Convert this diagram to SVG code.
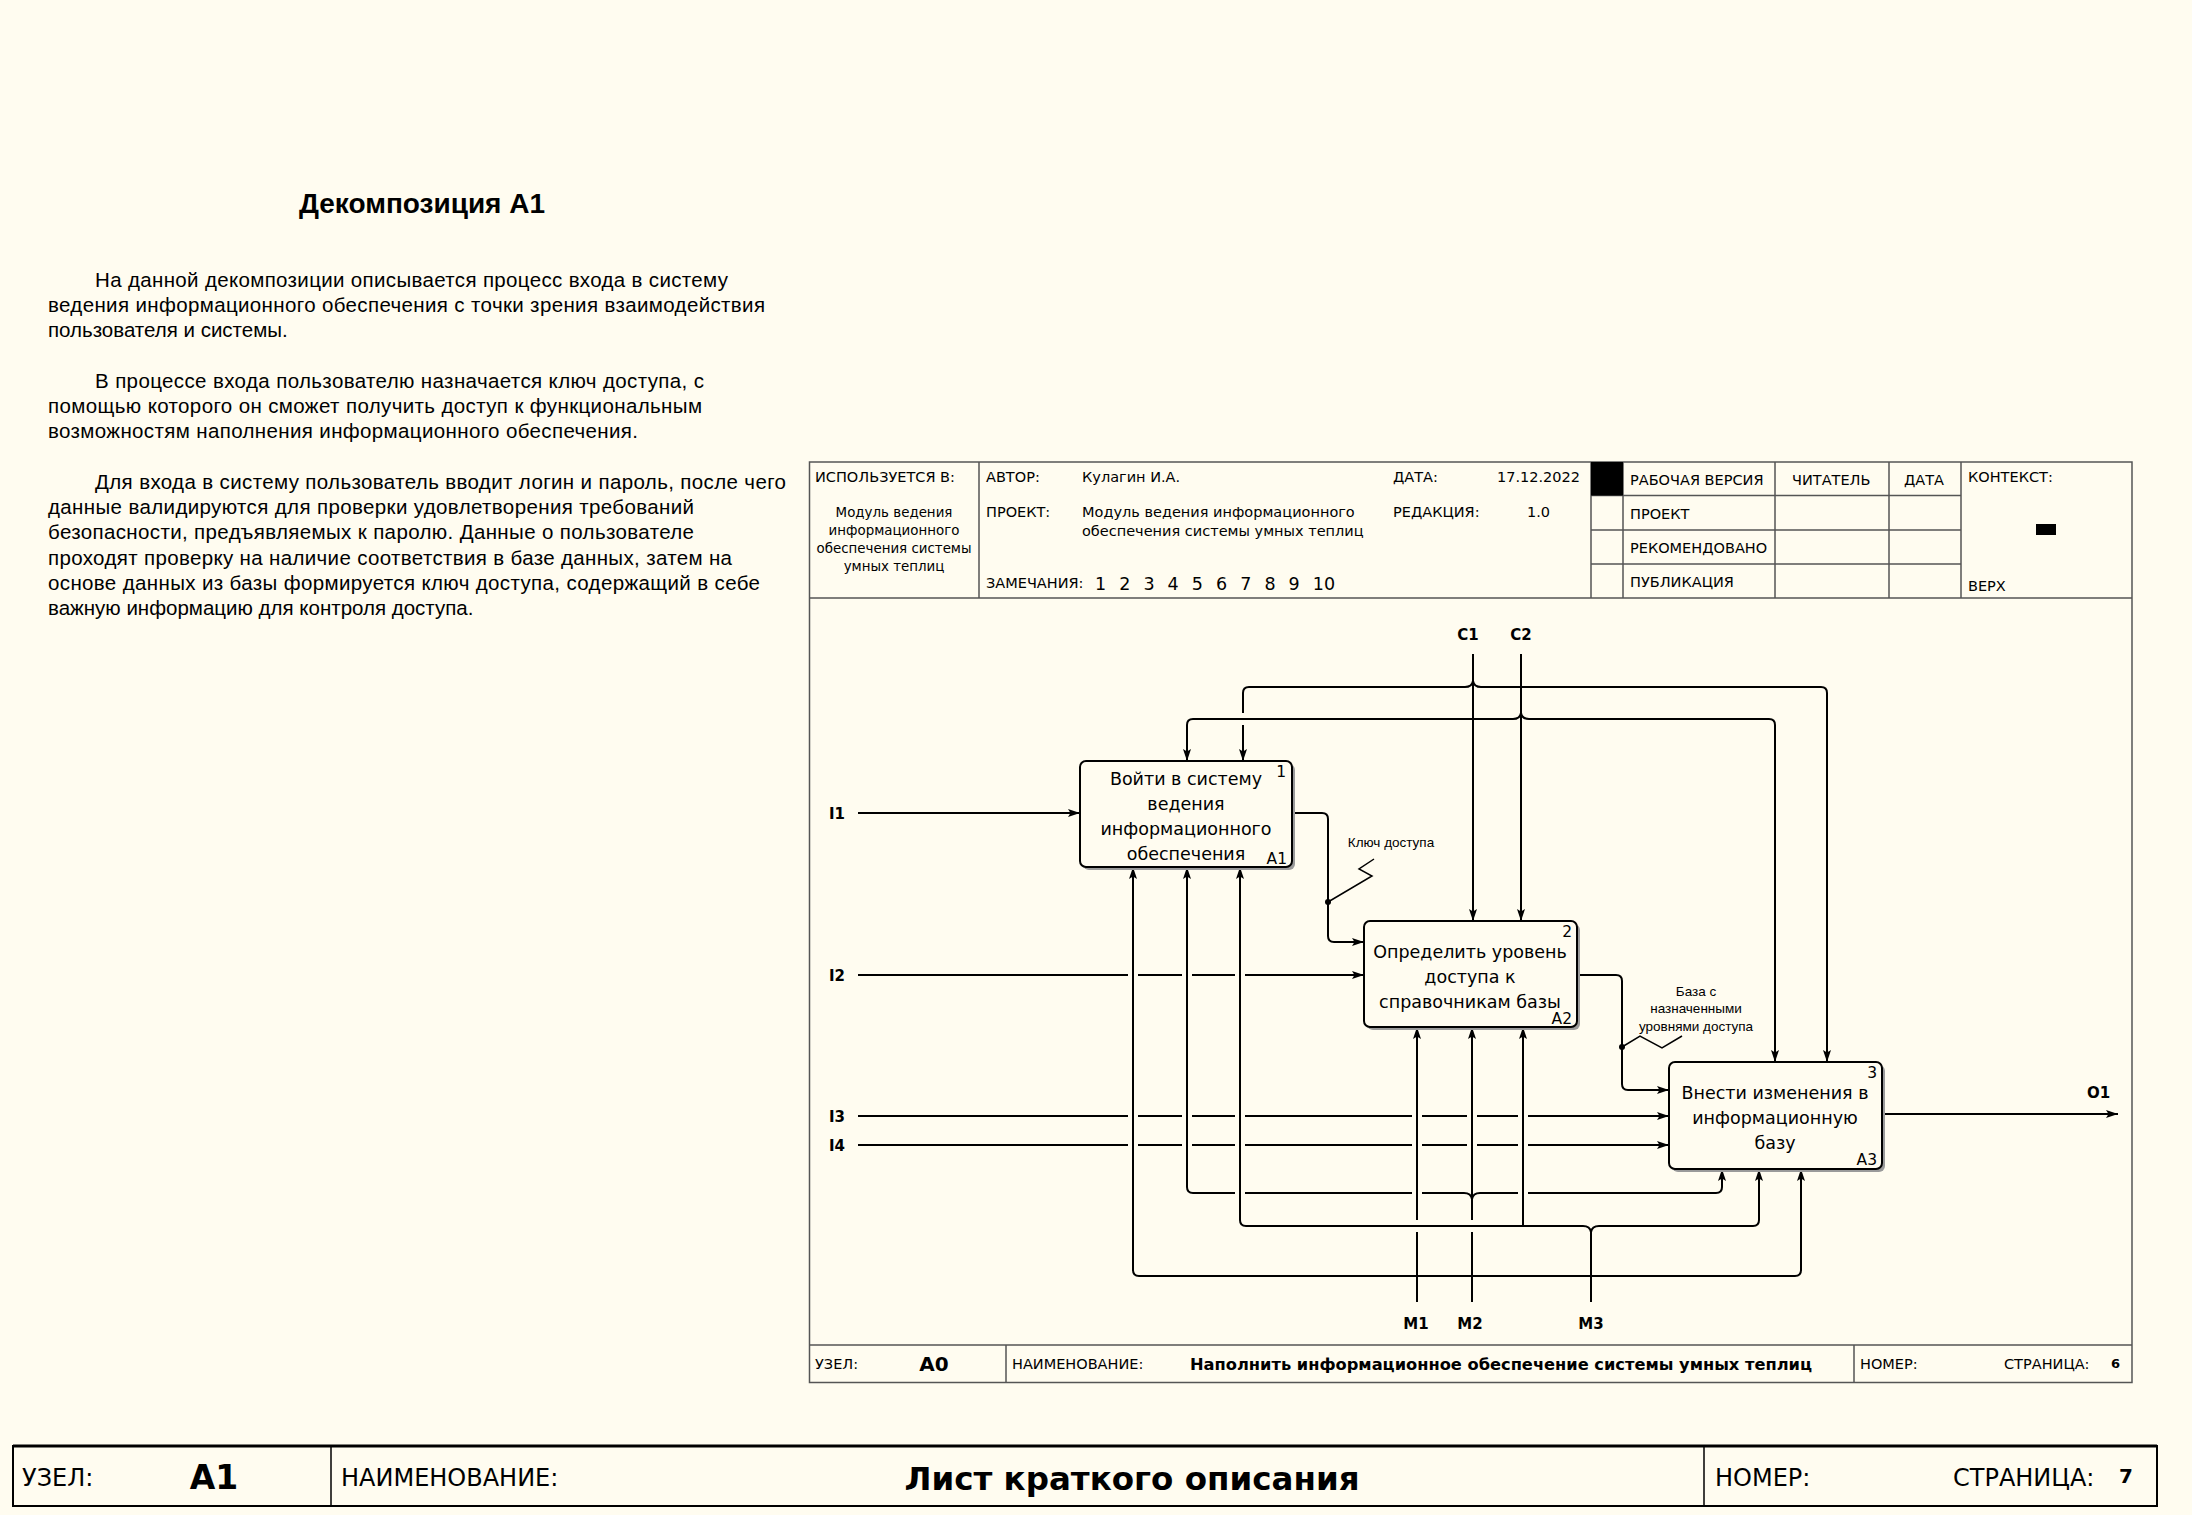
<svg xmlns="http://www.w3.org/2000/svg" width="2192" height="1515" viewBox="0 0 2192 1515">
<defs>
<style>
.bg{fill:#FFFCF0}
.para{font-family:"Liberation Sans",Arial,sans-serif;font-size:20.5px;fill:#000}
.title{font-family:"Liberation Sans",Arial,sans-serif;font-size:28px;font-weight:bold;fill:#000}
.h{font-family:"DejaVu Sans",sans-serif;font-size:14.5px;fill:#000}
.hs{font-family:"DejaVu Sans",sans-serif;font-size:13.4px;fill:#000;text-anchor:middle}
.fr{fill:none;stroke:#555;stroke-width:1.5}
.box{fill:#FFFCF0;stroke:#000;stroke-width:2}
.shadow{fill:#9a9a9a;stroke:none}
.bt{font-family:"DejaVu Sans",sans-serif;font-size:17.5px;fill:#000;text-anchor:middle}
.bn{font-family:"DejaVu Sans",sans-serif;font-size:15.5px;fill:#000;text-anchor:end}
.lbl{font-family:"DejaVu Sans",sans-serif;font-size:15px;font-weight:bold;fill:#000}
.al{font-family:"Liberation Sans",Arial,sans-serif;font-size:13.5px;fill:#000;text-anchor:middle}
.c{fill:none;stroke:#000;stroke-width:2}
.ca{fill:none;stroke:#000;stroke-width:2;marker-end:url(#arr)}
.pf{font-family:"DejaVu Sans",sans-serif;font-size:24px;fill:#000}
</style>
<marker id="arr" viewBox="0 0 12 8" refX="12" refY="4" markerWidth="12" markerHeight="8" markerUnits="userSpaceOnUse" orient="auto">
<path d="M0,0 L12,4 L0,8 L2.5,4 z" fill="#000"/>
</marker>
</defs>
<rect class="bg" x="0" y="0" width="2192" height="1515"/>

<g id="description">
<text class="title" x="422" y="213" text-anchor="middle">Декомпозиция A1</text>
<text class="para" x="95" y="287" textLength="633" lengthAdjust="spacing">На данной декомпозиции описывается процесс входа в систему</text>
<text class="para" x="48" y="312" textLength="717" lengthAdjust="spacing">ведения информационного обеспечения с точки зрения взаимодействия</text>
<text class="para" x="48" y="337">пользователя и системы.</text>
<text class="para" x="95" y="388" textLength="609" lengthAdjust="spacing">В процессе входа пользователю назначается ключ доступа, с</text>
<text class="para" x="48" y="413" textLength="654" lengthAdjust="spacing">помощью которого он сможет получить доступ к функциональным</text>
<text class="para" x="48" y="438" textLength="590" lengthAdjust="spacing">возможностям наполнения информационного обеспечения.</text>
<text class="para" x="95" y="489" textLength="691" lengthAdjust="spacing">Для входа в систему пользователь вводит логин и пароль, после чего</text>
<text class="para" x="48" y="514" textLength="646" lengthAdjust="spacing">данные валидируются для проверки удовлетворения требований</text>
<text class="para" x="48" y="539" textLength="646" lengthAdjust="spacing">безопасности, предъявляемых к паролю. Данные о пользователе</text>
<text class="para" x="48" y="565" textLength="684" lengthAdjust="spacing">проходят проверку на наличие соответствия в базе данных, затем на</text>
<text class="para" x="48" y="590" textLength="712" lengthAdjust="spacing">основе данных из базы формируется ключ доступа, содержащий в себе</text>
<text class="para" x="48" y="615">важную информацию для контроля доступа.</text>
</g>

<g id="header">
<rect class="fr" x="809.5" y="462" width="1322.5" height="920.5"/>
<line class="fr" x1="809.5" y1="598" x2="2132" y2="598"/>
<line class="fr" x1="979" y1="462" x2="979" y2="598"/>
<line class="fr" x1="1591" y1="462" x2="1591" y2="598"/>
<line class="fr" x1="1623" y1="462" x2="1623" y2="598"/>
<line class="fr" x1="1775" y1="462" x2="1775" y2="598"/>
<line class="fr" x1="1889" y1="462" x2="1889" y2="598"/>
<line class="fr" x1="1961" y1="462" x2="1961" y2="598"/>
<line class="fr" x1="1591" y1="495.5" x2="1961" y2="495.5"/>
<line class="fr" x1="1591" y1="530" x2="1961" y2="530"/>
<line class="fr" x1="1591" y1="564" x2="1961" y2="564"/>
<rect x="1591" y="462" width="32" height="33.5" fill="#000"/>
<rect x="2036" y="524" width="20" height="11" fill="#000"/>
<text class="h" x="815" y="482">ИСПОЛЬЗУЕТСЯ В:</text>
<text class="hs" x="894" y="517">Модуль ведения</text>
<text class="hs" x="894" y="535">информационного</text>
<text class="hs" x="894" y="553">обеспечения системы</text>
<text class="hs" x="894" y="571">умных теплиц</text>
<text class="h" x="986" y="482">АВТОР:</text>
<text class="h" x="1082" y="482">Кулагин И.А.</text>
<text class="h" x="1393" y="482">ДАТА:</text>
<text class="h" x="1497" y="482">17.12.2022</text>
<text class="h" x="986" y="517">ПРОЕКТ:</text>
<text class="h" x="1082" y="517">Модуль ведения информационного</text>
<text class="h" x="1082" y="536">обеспечения системы умных теплиц</text>
<text class="h" x="1393" y="517">РЕДАКЦИЯ:</text>
<text class="h" x="1527" y="517">1.0</text>
<text class="h" x="986" y="588">ЗАМЕЧАНИЯ:</text>
<text class="h" x="1095" y="590" style="font-size:17.5px;word-spacing:7.5px">1 2 3 4 5 6 7 8 9 10</text>
<text class="h" x="1630" y="485">РАБОЧАЯ ВЕРСИЯ</text>
<text class="h" x="1792" y="485">ЧИТАТЕЛЬ</text>
<text class="h" x="1904" y="485">ДАТА</text>
<text class="h" x="1630" y="519">ПРОЕКТ</text>
<text class="h" x="1630" y="553">РЕКОМЕНДОВАНО</text>
<text class="h" x="1630" y="587">ПУБЛИКАЦИЯ</text>
<text class="h" x="1968" y="482">КОНТЕКСТ:</text>
<text class="h" x="1968" y="591">ВЕРХ</text>
</g>

<g id="footer">
<line class="fr" x1="809.5" y1="1345" x2="2132" y2="1345"/>
<line class="fr" x1="1006" y1="1345" x2="1006" y2="1382.5"/>
<line class="fr" x1="1854" y1="1345" x2="1854" y2="1382.5"/>
<text class="h" x="815" y="1369">УЗЕЛ:</text>
<text class="h" x="934" y="1371" text-anchor="middle" style="font-size:20px;font-weight:bold">A0</text>
<text class="h" x="1012" y="1369">НАИМЕНОВАНИЕ:</text>
<text class="h" x="1190" y="1370" style="font-size:16px;font-weight:bold" textLength="622" lengthAdjust="spacingAndGlyphs">Наполнить информационное обеспечение системы умных теплиц</text>
<text class="h" x="1860" y="1369">НОМЕР:</text>
<text class="h" x="2004" y="1369">СТРАНИЦА:</text>
<text class="h" x="2111" y="1368" style="font-size:13px;font-weight:bold">6</text>
</g>

<g id="connectors">
<!-- inputs -->
<path class="ca" d="M858,813 H1080"/>
<path class="c" d="M858,975 H1128 M1138,975 H1182 M1192,975 H1235"/>
<path class="ca" d="M1245,975 H1364"/>
<path class="c" d="M858,1116 H1128 M1138,1116 H1182 M1192,1116 H1235 M1245,1116 H1412 M1422,1116 H1467 M1477,1116 H1518"/>
<path class="ca" d="M1528,1116 H1669"/>
<path class="c" d="M858,1145 H1128 M1138,1145 H1182 M1192,1145 H1235 M1245,1145 H1412 M1422,1145 H1467 M1477,1145 H1518"/>
<path class="ca" d="M1528,1145 H1669"/>
<!-- output -->
<path class="ca" d="M1882,1114 H2118"/>
<!-- controls -->
<path class="ca" d="M1473,654 V921"/>
<path class="c" d="M1473,681 Q1472,687 1465,687 H1249 Q1243,687 1243,693 V713"/>
<path class="ca" d="M1243,725 V761"/>
<path class="ca" d="M1473,681 Q1474,687 1481,687 H1821 Q1827,687 1827,693 V1062"/>
<path class="ca" d="M1521,654 V921"/>
<path class="ca" d="M1521,713 Q1520,719 1513,719 H1193 Q1187,719 1187,725 V761"/>
<path class="ca" d="M1521,713 Q1522,719 1529,719 H1769 Q1775,719 1775,725 V1062"/>
<!-- A1 -> A2 -->
<path class="ca" d="M1292,813 H1322 Q1328,813 1328,819 V936 Q1328,942 1334,942 H1364"/>
<circle cx="1328" cy="902" r="3" fill="#000"/>
<path d="M1328,902 L1372,876 L1359,869 L1374,859" fill="none" stroke="#000" stroke-width="1.5"/>
<text class="al" x="1391" y="847">Ключ доступа</text>
<!-- A2 -> A3 -->
<path class="ca" d="M1577,975 H1616 Q1622,975 1622,981 V1084 Q1622,1090 1628,1090 H1669"/>
<circle cx="1622" cy="1047" r="3" fill="#000"/>
<path d="M1622,1047 L1640,1036 L1662,1048 L1682,1036" fill="none" stroke="#000" stroke-width="1.5"/>
<text class="al" x="1696" y="996">База с</text>
<text class="al" x="1696" y="1013">назначенными</text>
<text class="al" x="1696" y="1031">уровнями доступа</text>
<!-- mechanisms -->
<path class="ca" d="M1470,1276 H1139 Q1133,1276 1133,1270 V867"/>
<path class="ca" d="M1470,1276 H1795 Q1801,1276 1801,1270 V1169"/>
<path class="c" d="M1472,1199 Q1471,1193 1464,1193 H1422 M1412,1193 H1245"/>
<path class="ca" d="M1235,1193 H1193 Q1187,1193 1187,1187 V867"/>
<path class="c" d="M1472,1199 Q1473,1193 1480,1193 H1518"/>
<path class="ca" d="M1528,1193 H1716 Q1722,1193 1722,1187 V1169"/>
<path class="c" d="M1417,1302 V1232 M1472,1302 V1232"/>
<path class="ca" d="M1417,1220 V1027"/>
<path class="ca" d="M1472,1220 V1027"/>
<path class="c" d="M1591,1302 V1232"/>
<path class="ca" d="M1591,1232 Q1590,1226 1583,1226 H1246 Q1240,1226 1240,1220 V867"/>
<path class="ca" d="M1591,1232 Q1592,1226 1599,1226 H1753 Q1759,1226 1759,1220 V1169"/>
<path class="ca" d="M1523,1226 V1027"/>
<!-- labels -->
<text class="lbl" x="1468" y="640" text-anchor="middle">C1</text>
<text class="lbl" x="1521" y="640" text-anchor="middle">C2</text>
<text class="lbl" x="829" y="819">I1</text>
<text class="lbl" x="829" y="981">I2</text>
<text class="lbl" x="829" y="1122">I3</text>
<text class="lbl" x="829" y="1151">I4</text>
<text class="lbl" x="2087" y="1098">O1</text>
<text class="lbl" x="1416" y="1329" text-anchor="middle">M1</text>
<text class="lbl" x="1470" y="1329" text-anchor="middle">M2</text>
<text class="lbl" x="1591" y="1329" text-anchor="middle">M3</text>
</g>

<g id="A1">
<rect class="shadow" x="1083" y="764" width="212" height="106" rx="6"/>
<rect class="box" x="1080" y="761" width="212" height="106" rx="6"/>
<text class="bt" x="1186" y="785">Войти в систему</text>
<text class="bt" x="1186" y="810">ведения</text>
<text class="bt" x="1186" y="835">информационного</text>
<text class="bt" x="1186" y="860">обеспечения</text>
<text class="bn" x="1286" y="777">1</text>
<text class="bn" x="1287" y="864">A1</text>
</g>

<g id="A2">
<rect class="shadow" x="1367" y="924" width="213" height="106" rx="6"/>
<rect class="box" x="1364" y="921" width="213" height="106" rx="6"/>
<text class="bt" x="1470" y="958">Определить уровень</text>
<text class="bt" x="1470" y="983">доступа к</text>
<text class="bt" x="1470" y="1008">справочникам базы</text>
<text class="bn" x="1572" y="937">2</text>
<text class="bn" x="1572" y="1024">A2</text>
</g>

<g id="A3">
<rect class="shadow" x="1672" y="1065" width="213" height="107" rx="6"/>
<rect class="box" x="1669" y="1062" width="213" height="107" rx="6"/>
<text class="bt" x="1775" y="1099">Внести изменения в</text>
<text class="bt" x="1775" y="1124">информационную</text>
<text class="bt" x="1775" y="1149">базу</text>
<text class="bn" x="1877" y="1078">3</text>
<text class="bn" x="1877" y="1165">A3</text>
</g>

<g id="page-footer">
<rect x="13" y="1446" width="2144" height="60" fill="none" stroke="#000" stroke-width="2"/>
<line x1="13" y1="1446" x2="2157" y2="1446" stroke="#000" stroke-width="3"/>
<line x1="331" y1="1446" x2="331" y2="1506" stroke="#000" stroke-width="1.5"/>
<line x1="1704" y1="1446" x2="1704" y2="1506" stroke="#000" stroke-width="1.5"/>
<text class="pf" x="22" y="1486">УЗЕЛ:</text>
<text class="pf" x="214" y="1489" text-anchor="middle" style="font-size:33px;font-weight:bold">A1</text>
<text class="pf" x="341" y="1486">НАИМЕНОВАНИЕ:</text>
<text class="pf" x="1132" y="1490" text-anchor="middle" style="font-size:32.5px;font-weight:bold">Лист краткого описания</text>
<text class="pf" x="1715" y="1486">НОМЕР:</text>
<text class="pf" x="1953" y="1486">СТРАНИЦА:</text>
<text class="pf" x="2126" y="1483" text-anchor="middle" style="font-size:20px;font-weight:bold">7</text>
</g>
</svg>
